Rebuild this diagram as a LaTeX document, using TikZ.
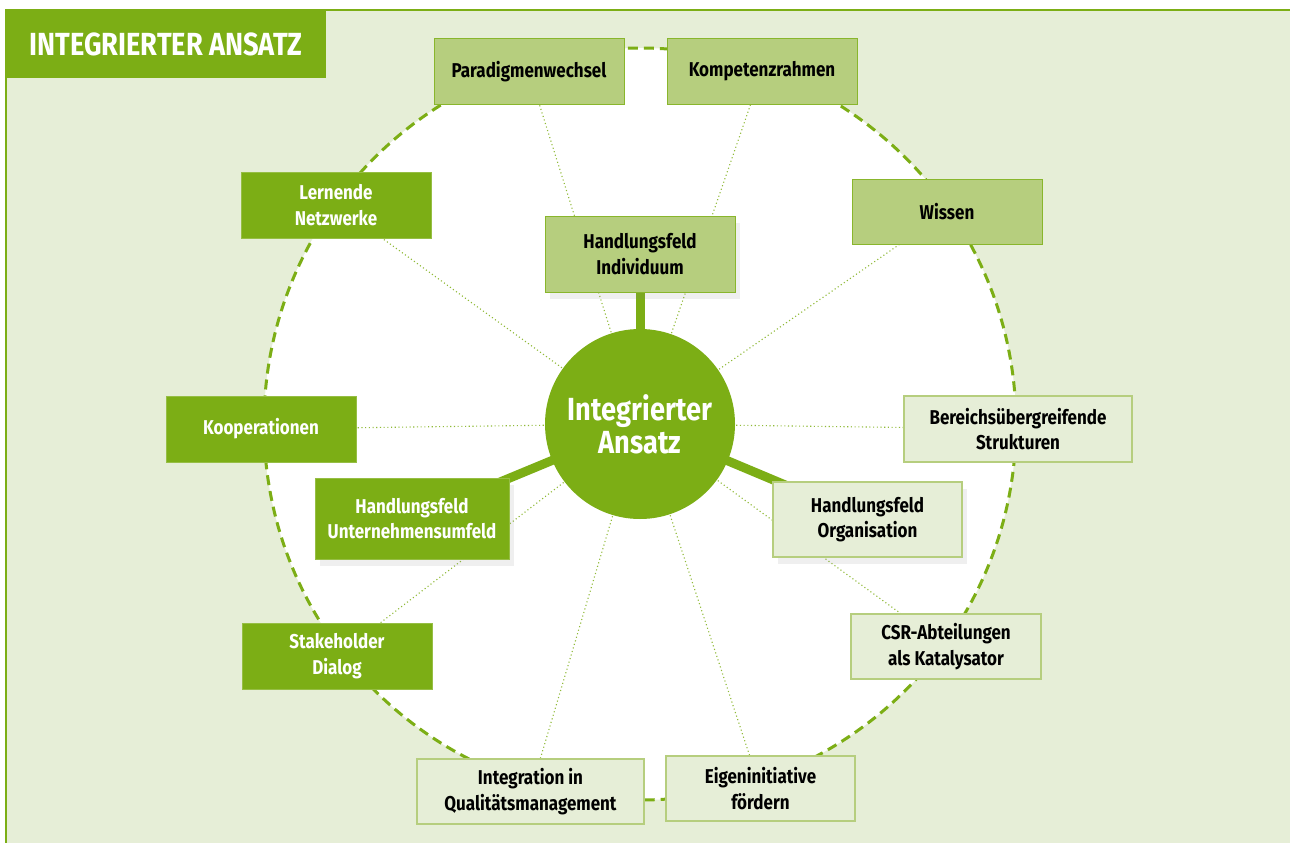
\documentclass[tikz,border=0pt]{standalone}
\usepackage{fontspec}
\setmainfont{Fira Sans}[FakeStretch=0.85]
\usetikzlibrary{positioning,shadows,backgrounds}

\begin{document}
\begin{tikzpicture}[x=1pt, y=-1pt]
    \tikzset{every path/.style={line cap=butt}}
\definecolor{Ansatz_dark}{RGB}{124,174,21}
\definecolor{Ansatz_mid}{RGB}{182,206,126}
\definecolor{Ansatz_pale}{RGB}{230,238,215}
\tikzset{
    feld/.style={rectangle, minimum width=190pt, minimum height=65pt, inner sep=2pt, align=center, font=\bfseries\fontsize{20}{25.5}\selectfont},
    feldDunkel/.style={feld, fill=Ansatz_dark, draw=Ansatz_dark!80!white, line width=1pt, text=white},
    feldMittel/.style={feld, fill=Ansatz_mid, draw=Ansatz_dark!90, line width=1pt, text=black},
    feldHell/.style={feld, fill=Ansatz_pale, draw=Ansatz_mid, line width=1.5pt, text=black},
    schatten/.style={drop shadow={opacity=0.12, shadow xshift=5pt, shadow yshift=-7pt}},
    speiche/.style={draw=Ansatz_dark!85, line width=1.1pt, dash pattern=on 1.1pt off 2.6pt},
    achse/.style={draw=Ansatz_dark, line width=9pt}
}
\useasboundingbox (0,0) rectangle (1290,843);

% Titel
\node[rectangle, fill=Ansatz_dark, minimum width=320pt, minimum height=68pt, text=white, font=\bfseries\fontsize{32}{36}\selectfont] (titel) at (166,44) {INTEGRIERTER ANSATZ};

% Mitte
\node[circle, fill=Ansatz_dark, minimum size=190pt, inner sep=0pt, align=center, text=white, font=\bfseries\fontsize{32}{33}\selectfont] (mitte) at (640,424) {Integrierter\\Ansatz};

% Handlungsfelder
\node[feldMittel, schatten, minimum height=76pt] (indiv) at (640,254) {Handlungsfeld\\Individuum};
\node[feldDunkel, schatten, minimum width=194pt, minimum height=81pt] (umfeld) at (412,518.5) {Handlungsfeld\\Unternehmensumfeld};
\node[feldHell, schatten, minimum width=189pt, minimum height=75pt] (orga) at (867.5,519.5) {Handlungsfeld\\Organisation};

% Individuum
\node[feldMittel] (para) at (529,71.5) {Paradigmenwechsel};
\node[feldMittel] (komp) at (762,71.5) {Kompetenzrahmen};
\node[feldMittel] (wissen) at (947,211.5) {Wissen};

% Unternehmensumfeld
\node[feldDunkel, minimum height=66pt] (lernen) at (336,205) {Lernende\\Netzwerke};
\node[feldDunkel, minimum height=66pt] (koop) at (261,429) {Kooperationen};
\node[feldDunkel, minimum height=66pt] (stake) at (337,656) {Stakeholder\\Dialog};

% Organisation
\node[feldHell, minimum width=227pt] (integ) at (530.5,791.5) {Integration in\\Qualitätsmanagement};
\node[feldHell, minimum width=189pt] (eigen) at (760.5,788.5) {Eigeninitiative\\fördern};
\node[feldHell, minimum width=228pt, minimum height=66pt] (bereich) at (1018,429) {Bereichsübergreifende\\Strukturen};
\node[feldHell] (csr) at (946,646.5) {CSR-Abteilungen\\als Katalysator};

\begin{scope}[on background layer]
% Hintergrund
\fill[Ansatz_pale] (6,10) rectangle (1290,843);
\draw[Ansatz_dark, line width=2pt] (6,843) -- (6,10) -- (1290,10);
\draw[fill=white, draw=Ansatz_dark, line width=3pt, dash pattern=on 10pt off 6pt] (mitte.center) circle (376);

% Speichen
\foreach \ziel in {para,komp,wissen,lernen,koop,stake,integ,eigen,bereich,csr} {
    \draw[speiche] (mitte.center) -- (\ziel.center);
}

% Achsen
\foreach \feld in {indiv,umfeld,orga} {
    \draw[achse] (mitte.center) -- (\feld.center);
}
\end{scope}

\end{tikzpicture}
\end{document}
